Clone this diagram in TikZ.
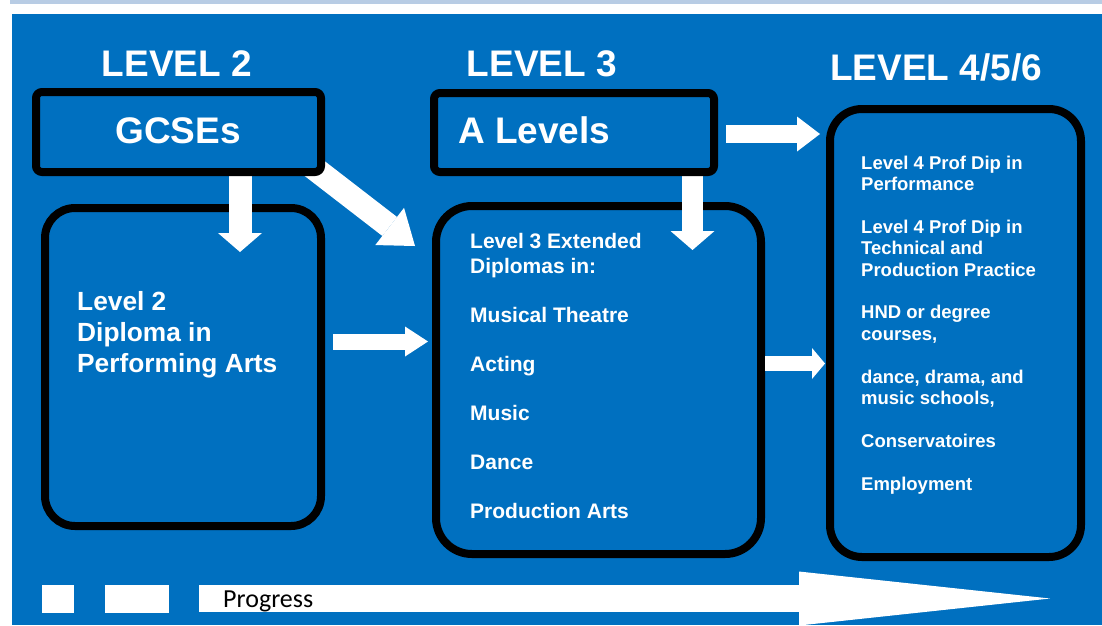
\documentclass[tikz,border=0pt]{standalone}
\usepackage{fontspec}
\setmainfont{Liberation Sans}
\newfontfamily\progfont{Carlito}
\usetikzlibrary{arrows.meta}
\definecolor{panelblue}{HTML}{0070C0}
\definecolor{bandblue}{HTML}{B8CCE4}

\begin{document}
\begin{tikzpicture}[x=1pt, y=-1pt,
    levelbox/.style={draw=black, line width=8pt, fill=panelblue, rounded corners=#1, inner sep=0pt},
    headtext/.style={text=white, inner sep=0pt, anchor=base, font=\bfseries\fontsize{37}{44}\selectfont},
    listtext/.style={text=white, inner sep=0pt, anchor=base west, align=left},
    blockarrow/.style={draw=white, line width=#1}]
                \useasboundingbox (0,0) rectangle (1102,625);
                \fill[bandblue] (10,0) rectangle (1102,4);
                \fill[panelblue] (12,14) rectangle (1102,625);
                % headings
                \node[headtext] (lvtwo) at (177,76) {LEVEL 2};
                \node[headtext] (lvthree) at (542,76) {LEVEL 3};
                \node[headtext] (lvfour) at (936,80) {LEVEL 4/5/6};
                % lower boxes
                \node[levelbox=30pt, minimum width=276pt, minimum height=318pt] (diploma) at (183,367) {};
                \node[levelbox=36pt, minimum width=325pt, minimum height=348pt] (extended) at (598.5,380) {};
                \node[levelbox=32pt, minimum width=251pt, minimum height=448pt] (higher) at (955.5,333) {};
                % arrow end points
                \path (301,158) coordinate (diagfrom);
                \path (415,246) coordinate (diagto);
                \path (240,165) coordinate (gcsefrom);
                \path (240,252) coordinate (gcseto);
                \path (692.5,165) coordinate (alevfrom);
                \path (692.5,250) coordinate (alevto);
                \path (333,341.5) coordinate (dipfrom);
                \path (428,341.5) coordinate (dipto);
                \path (726,134) coordinate (highfrom);
                \path (820,134) coordinate (highto);
                \path (765,363.5) coordinate (extfrom);
                \path (825,363.5) coordinate (extto);
                \draw[blockarrow=24pt, -{Triangle[width=47pt, length=32pt, line width=0pt]}] (diagfrom) -- (diagto);
                \draw[blockarrow=23pt, -{Triangle[width=44pt, length=19pt, line width=0pt]}] (gcsefrom) -- (gcseto);
                \draw[blockarrow=21pt, -{Triangle[width=44pt, length=19pt, line width=0pt]}] (alevfrom) -- (alevto);
                \draw[blockarrow=16pt, -{Triangle[width=30pt, length=23pt, line width=0pt]}] (dipfrom) -- (dipto);
                \draw[blockarrow=18pt, -{Triangle[width=35pt, length=23pt, line width=0pt]}] (highfrom) -- (highto);
                \draw[blockarrow=15pt, -{Triangle[width=31pt, length=13pt, line width=0pt]}] (extfrom) -- (extto);
                % upper boxes
                \node[levelbox=6pt, minimum width=285pt, minimum height=80pt] (gcse) at (178.5,132) {};
                \node[levelbox=6pt, minimum width=280pt, minimum height=79pt] (alevels) at (574,132.5) {};
                \node[headtext] (gcsetext) at (178,143) {GCSEs};
                \node[headtext, anchor=base west] (alevtext) at (458,143) {A Levels};
                % box texts (anchored at the last line)
                \node[listtext, font=\bfseries\fontsize{26.3}{31}\selectfont] (diptext) at (77,372)
                    {Level 2\\Diploma in\\Performing Arts};
                \node[listtext, font=\bfseries\fontsize{21}{24.5}\selectfont] (exttext) at (470,518)
                    {Level 3 Extended\\Diplomas in:\\[24.5pt]Musical Theatre\\[24.5pt]Acting\\[24.5pt]Music\\[24.5pt]Dance\\[24.5pt]Production Arts};
                \node[listtext, font=\bfseries\fontsize{18.5}{21.4}\selectfont] (hightext) at (861,490)
                    {Level 4 Prof Dip in\\Performance\\[21.4pt]Level 4 Prof Dip in\\Technical and\\Production Practice\\[21.4pt]HND or degree\\courses,\\[21.4pt]dance, drama, and\\music schools,\\[21.4pt]Conservatoires\\[21.4pt]Employment};
                % progress bar
                \fill[white] (42,585) rectangle (74,613);
                \fill[white] (105,585) rectangle (169,613);
                \path (199,598.5) coordinate (progfrom);
                \path (1050,598.5) coordinate (progto);
                \draw[blockarrow=27pt, -{Triangle[width=54pt, length=251pt, line width=0pt]}] (progfrom) -- (progto);
                \node[anchor=base west, inner sep=0pt, font=\progfont\fontsize{26}{30}\selectfont] (progtext) at (223,607) {Progress};
\end{tikzpicture}
\end{document}
